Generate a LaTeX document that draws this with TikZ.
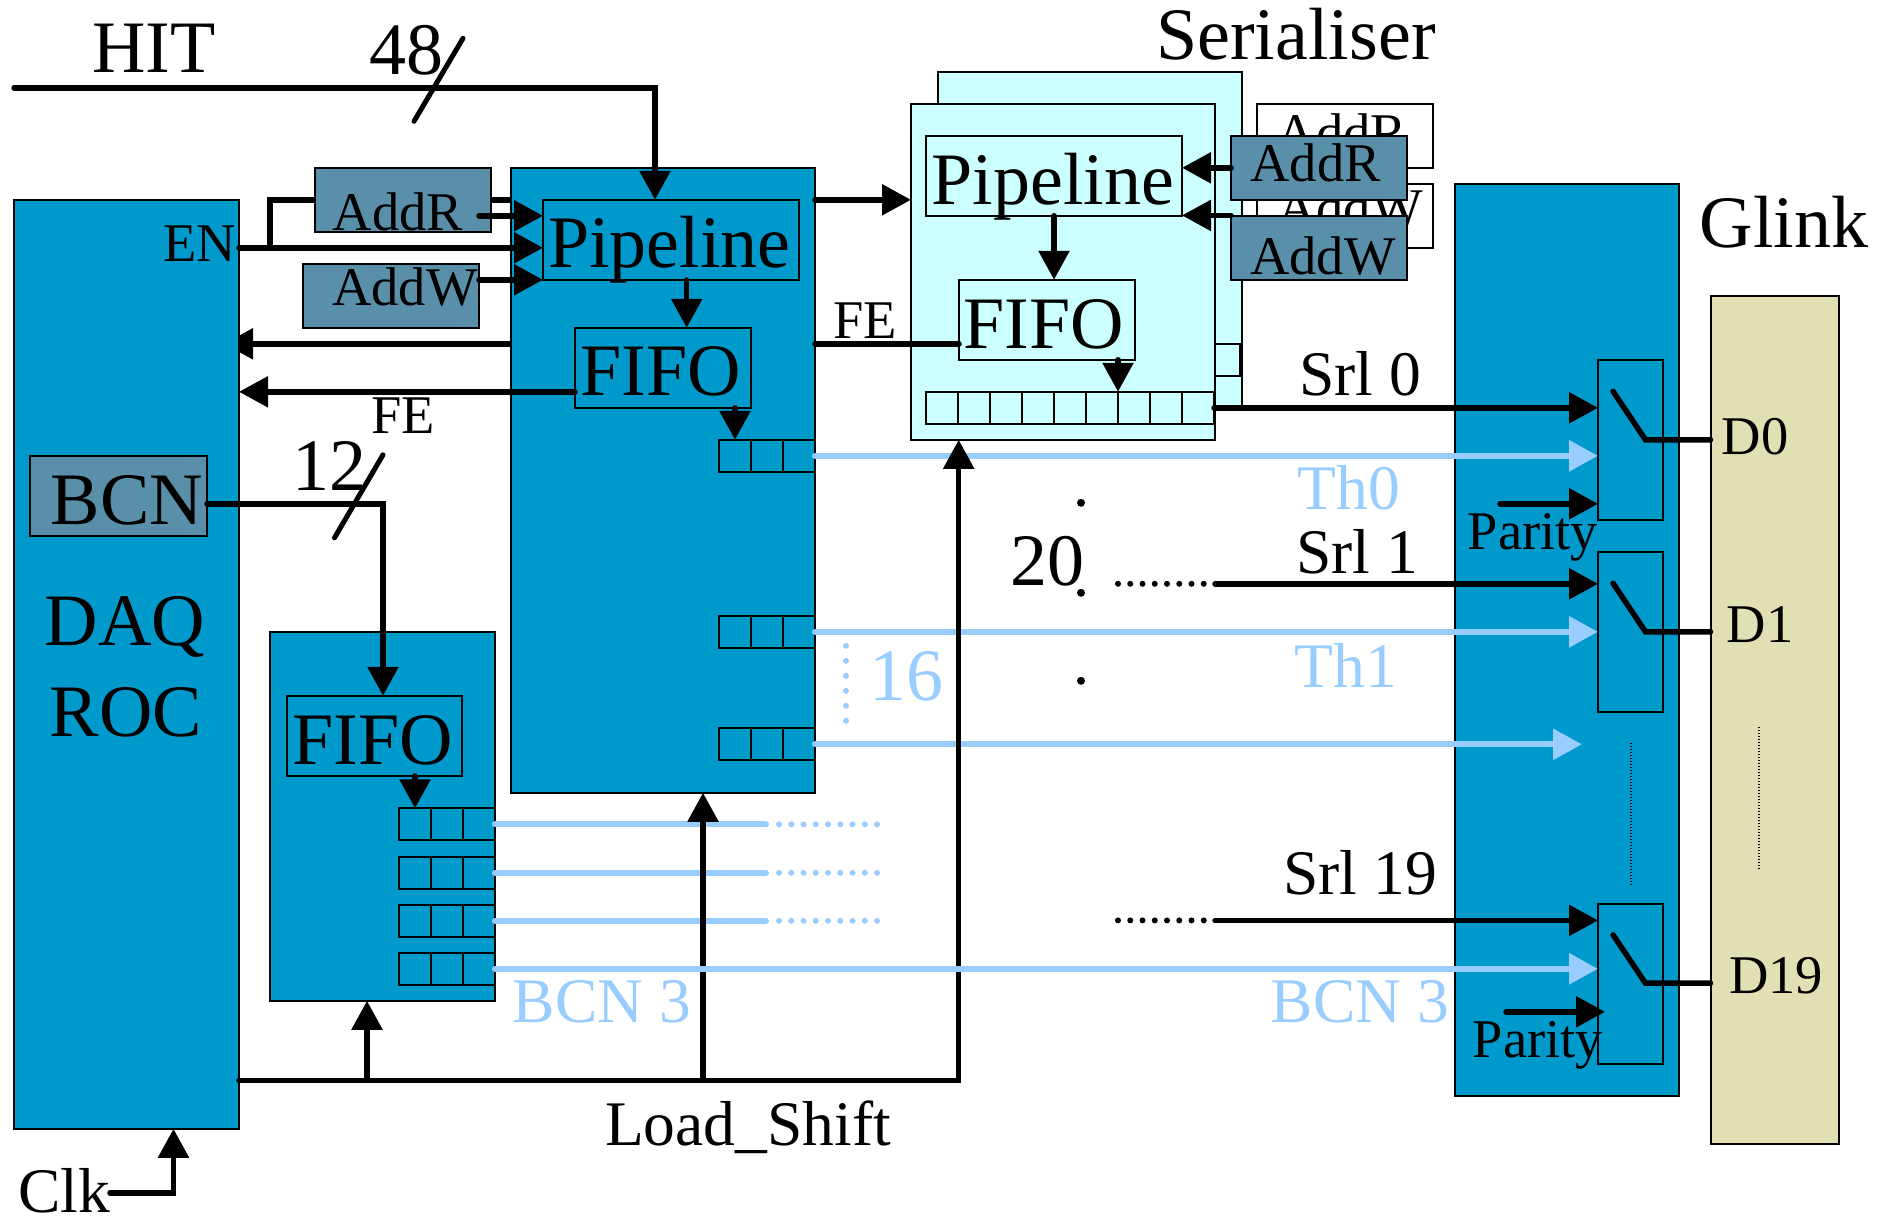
\documentclass[tikz,border=0pt]{standalone}
\usepackage{fontspec}
\setmainfont{Liberation Serif}
\usepackage{xcolor}
\usetikzlibrary{arrows.meta}
\definecolor{blockblue}{RGB}{0,153,204}
\definecolor{addrgrey}{RGB}{90,143,170}
\definecolor{serialcyan}{RGB}{204,255,255}
\definecolor{glinksand}{RGB}{224,224,180}
\definecolor{lightsig}{RGB}{153,204,255}

\begin{document}
\begin{tikzpicture}[
  x=1pt, y=-1pt,
  every node/.style={inner sep=0pt,outer sep=0pt},
  box/.style={draw=black,line width=2pt},
  block/.style={box,fill=blockblue},
  addrbox/.style={box,fill=addrgrey,minimum width=176,minimum height=64},
  serbox/.style={box,fill=serialcyan},
  ghostbox/.style={box,fill=white,minimum width=176,minimum height=64},
  regcell/.style={box,minimum width=32,minimum height=32},
  big/.style={anchor=base,font=\fontsize{74}{74}\selectfont},
  mid/.style={anchor=base,font=\fontsize{63.5}{64}\selectfont},
  small/.style={anchor=base,font=\fontsize{54.5}{55}\selectfont},
  sig/.style={line width=5.5pt,line cap=round},
  cut/.style={line width=5pt,line cap=round},
  lightline/.style={line width=6pt,line cap=round,color=lightsig},
  dotrow/.style={line width=6pt,line cap=round,dash pattern=on 0pt off 12.25pt},
  thindots/.style={line width=2pt,dash pattern=on 1.5pt off 1.5pt},
  dotmark/.style={circle,fill=black,minimum size=8},
  >={Triangle[length=29pt,width=30pt]}
]
  \useasboundingbox (0,-0.8) rectangle (1891,1218.2);

  \coordinate (hit) at (14,87);
  \coordinate (hitb) at (655,87);
  \coordinate (hitcuta) at (463,37.5);
  \coordinate (hitcutb) at (414,120.5);
  \coordinate (enj) at (270,247);
  \coordinate (addrtop) at (270,199);
  \coordinate (addrend) at (511,199);
  \coordinate (ret) at (511,343);
  \coordinate (retend) at (224,343);

  \draw[sig] (enj)--(addrtop)--(addrend);
  \draw[sig,->] (ret)--(retend);

  \node[block,minimum width=225,minimum height=929] (daq) at (126.5,663.5) {};
  \node[box,fill=addrgrey,minimum width=177,minimum height=80.5] (bcnbox) at (118.5,495) {};
  \node[addrbox] (addrl) at (403,199) {};
  \node[addrbox] (addwl) at (390.5,295) {};

  \node[block,minimum width=304,minimum height=625] (pblock) at (663,479.5) {};
  \node[box,minimum width=256,minimum height=80] (ppipe) at (671,239) {};
  \node[box,minimum width=176.5,minimum height=80] (pfifo) at (663,367) {};
  \foreach \r/\y in {1/455,2/631,3/743.5}
    \foreach \c/\x in {0/735,1/767,2/799}
      \node[regcell] (preg\r-\c) at (\x,\y) {};

  \node[block,minimum width=225,minimum height=369] (lblock) at (382.5,815.5) {};
  \node[box,minimum width=175,minimum height=80] (lfifo) at (374.5,735) {};
  \foreach \r/\y in {1/823.5,2/872,3/920,4/968}
    \foreach \c/\x in {0/415,1/447,2/479}
      \node[regcell] (lreg\r-\c) at (\x,\y) {};

  \node[ghostbox] (ghostr) at (1344.5,135) {};
  \node[ghostbox] (ghostw) at (1344.5,215) {};
  \node[small] (ghostrtxt) at (1342,151) {AddR};
  \node[small] (ghostwtxt) at (1350,226) {AddW};

  \node[serbox,minimum width=304,minimum height=336] (serb) at (1090,239) {};
  \node[box,minimum width=50,minimum height=32] (backreg) at (1215,359) {};
  \node[serbox,minimum width=304,minimum height=336] (serf) at (1063,271) {};
  \node[box,minimum width=256,minimum height=80] (spipe) at (1054,175) {};
  \node[box,minimum width=176,minimum height=80] (sfifo) at (1047,319) {};
  \foreach \c/\x in {0/942,1/974,2/1006,3/1038,4/1070,5/1102,6/1134,7/1166,8/1198}
    \node[regcell] (sreg\c) at (\x,407) {};
  \node[addrbox] (addrf) at (1319,167) {};
  \node[addrbox] (addwf) at (1319,247.5) {};

  \node[block,minimum width=224.5,minimum height=912] (rblock) at (1567,639) {};
  \node[box,minimum width=65,minimum height=160] (swa) at (1630.5,439) {};
  \node[box,minimum width=65,minimum height=160] (swb) at (1630.5,631) {};
  \node[box,minimum width=65,minimum height=160] (swc) at (1630.5,983) {};
  \node[box,fill=glinksand,minimum width=128,minimum height=848] (glink) at (1774.5,719) {};

  \coordinate (thend) at (1582,743.5);
  \foreach \r/\y in {1/823.5,2/872,3/920} {
    \coordinate (lstop\r) at (766,\y);
    \coordinate (ldotstart\r) at (779,\y);
    \coordinate (ldots\r) at (878,\y);
    \draw[lightline] (lreg\r-2.east)--(lstop\r);
    \draw[dotrow,color=lightsig] (ldotstart\r)--(ldots\r);
  }
  \draw[lightline,->] (preg1-2.east)--(preg1-2.east -| swa.west);
  \draw[lightline,->] (preg2-2.east)--(preg2-2.east -| swb.west);
  \draw[lightline,->] (preg3-2.east)--(thend);

  \coordinate (sixa) at (846,645);
  \coordinate (sixb) at (846,722);
  \draw[line width=6pt,line cap=round,color=lightsig,dash pattern=on 0pt off 15pt] (sixa)--(sixb);

  \coordinate (clk) at (110,1192);
  \coordinate (clkb) at (173.5,1192);
  \coordinate (ls) at (239,1079.5);
  \coordinate (lsa) at (367,1079.5);
  \coordinate (lsb) at (703,1079.5);
  \coordinate (lsc) at (958.7,1079.5);
  \coordinate (bcnout) at (207,503);
  \coordinate (bcnb) at (383,503);
  \coordinate (bcncuta) at (383,454);
  \coordinate (bcncutb) at (334.5,537);
  \coordinate (en) at (239,247);
  \coordinate (addrout) at (479,215);
  \coordinate (addwout) at (479,279);
  \coordinate (fereg) at (575,391);
  \coordinate (pout) at (815,199);
  \coordinate (fe) at (815,343);
  \coordinate (pfall) at (686.7,279);
  \coordinate (swin) at (1231,214.6);
  \coordinate (srlb) at (1215,583);
  \coordinate (srlbdot) at (1118,583);
  \coordinate (srlc) at (1215,919.6);
  \coordinate (srlcdot) at (1118,919.6);
  \coordinate (para) at (1500,503);
  \coordinate (parb) at (1506,1011);
  \coordinate (parbend) at (1605,1011);
  \coordinate (leva) at (1613,390.5);
  \coordinate (levab) at (1645.5,439);
  \coordinate (levb) at (1613,582.4);
  \coordinate (levbb) at (1645.5,631);
  \coordinate (levc) at (1613,934);
  \coordinate (levcb) at (1645.5,982.4);
  \coordinate (rdota) at (1630.7,742);
  \coordinate (rdotb) at (1630.7,885);
  \coordinate (gdota) at (1758.7,726);
  \coordinate (gdotb) at (1758.7,869);

  \draw[sig,->] (hit)--(hitb)--(hitb |- ppipe.north);
  \draw[cut] (hitcuta)--(hitcutb);
  \draw[sig,->] (en)--(en -| ppipe.west);
  \draw[sig,->] (addrout)--(addrout -| ppipe.west);
  \draw[sig,->] (addwout)--(addwout -| ppipe.west);
  \draw[sig,->] (fereg)--(fereg -| daq.east);
  \draw[sig,->] (pfall)--(pfall |- pfifo.north);
  \draw[sig,->] (preg1-0.north |- pfifo.south)--(preg1-0.north);
  \draw[sig,->] (pout)--(pout -| serf.west);
  \draw[sig] (fe)--(fe -| sfifo.west);

  \draw[sig,->] (bcnout)--(bcnb)--(bcnb |- lfifo.north);
  \draw[cut] (bcncuta)--(bcncutb);
  \draw[sig,->] (lreg1-0.north |- lfifo.south)--(lreg1-0.north);

  \draw[sig,->] (ls)--(lsc)--(lsc |- serf.south);
  \draw[sig,->] (lsa)--(lsa |- lblock.south);
  \draw[sig,->] (lsb)--(lsb |- pblock.south);
  \draw[sig,->] (clk)--(clkb)--(clkb |- daq.south);
  \draw[lightline,->] (lreg4-2.east)--(lreg4-2.east -| swc.west);

  \draw[sig,->] (addrf.west)--(addrf.west -| spipe.east);
  \draw[sig,->] (swin)--(swin -| spipe.east);
  \draw[sig,->] (spipe.south)--(spipe.south |- sfifo.north);
  \draw[sig,->] (sreg5.north east |- sfifo.south)--(sreg5.north east);

  \draw[sig,->] (sreg8.east)--(sreg8.east -| swa.west);
  \draw[sig,->] (srlb)--(srlb -| swb.west);
  \draw[dotrow] (srlbdot)--(srlb);
  \draw[sig,->] (srlc)--(srlc -| swc.west);
  \draw[dotrow] (srlcdot)--(srlc);
  \draw[sig,->] (para)--(para -| swa.west);
  \draw[sig,->] (parb)--(parbend);

  \draw[sig] (leva)--(levab)--(levab -| glink.west);
  \draw[sig] (levb)--(levbb)--(levbb -| glink.west);
  \draw[sig] (levc)--(levcb)--(levcb -| glink.west);
  \draw[thindots] (rdota)--(rdotb);
  \draw[thindots] (gdota)--(gdotb);

  \node[dotmark] (dota) at (1081,502) {};
  \node[dotmark] (dotb) at (1081,592) {};
  \node[dotmark] (dotc) at (1081,680) {};

  \node[big] (hittxt) at (154,72) {HIT};
  \node[big] (hitnum) at (406.5,74) {48};
  \node[small] (entxt) at (200,261) {EN};
  \node[small] (addrltxt) at (398,230) {AddR};
  \node[small] (addwltxt) at (405,305) {AddW};
  \node[big] (ppipetxt) at (669.5,267) {Pipeline};
  \node[big] (pfifotxt) at (660.5,395) {FIFO};
  \node[small] (fea) at (403,433) {FE};
  \node[small] (feb) at (865,338) {FE};
  \node[big] (bcnnum) at (329,490) {12};
  \node[big] (bcntxt) at (127,524) {BCN};
  \node[big] (daqtxt) at (125,645) {DAQ};
  \node[big] (roctxt) at (126,736) {ROC};
  \node[big] (lfifotxt) at (372.5,764) {FIFO};
  \node[mid,text=lightsig] (bcnl) at (602,1022) {BCN 3};
  \node[mid,text=lightsig] (bcnr) at (1360,1022) {BCN 3};
  \node[mid] (lstxt) at (748,1145) {Load\_Shift};
  \node[mid] (clktxt) at (64,1212) {Clk};
  \node[big,text=lightsig] (sixteen) at (906,700) {16};
  \node[big] (twenty) at (1047,585) {20};
  \node[big] (sertxt) at (1296,59) {Serialiser};
  \node[big] (spipetxt) at (1053,203.5) {Pipeline};
  \node[big] (sfifotxt) at (1044,348) {FIFO};
  \node[small] (addrftxt) at (1315.5,181) {AddR};
  \node[small] (addwftxt) at (1323,273.5) {AddW};
  \node[mid] (srla) at (1360,395) {Srl 0};
  \node[mid] (srlatxt) at (1357,573) {Srl 1};
  \node[mid] (srlctxt) at (1360,893.6) {Srl 19};
  \node[mid,text=lightsig] (tha) at (1349,509) {Th0};
  \node[mid,text=lightsig] (thb) at (1346,687) {Th1};
  \node[small] (parta) at (1533,549) {Parity};
  \node[small] (partb) at (1538,1057) {Parity};
  \node[big] (glinktxt) at (1784,247) {Glink};
  \node[small] (dzero) at (1755,454) {D0};
  \node[small] (done) at (1760,642) {D1};
  \node[small] (dnineteen) at (1776,993) {D19};
\end{tikzpicture}
\end{document}
